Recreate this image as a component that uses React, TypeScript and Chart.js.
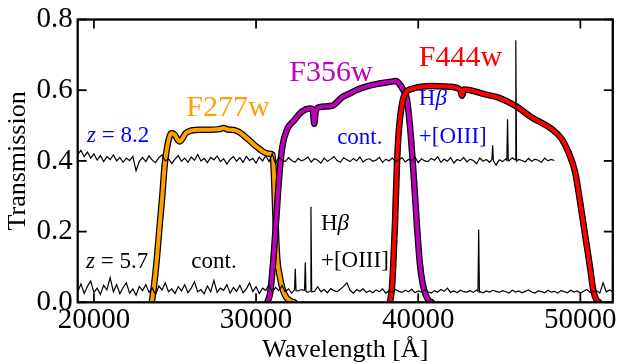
import React, { useEffect, useRef } from 'react';
import { Chart, registerables } from 'chart.js';

Chart.register(...registerables);

const SERIF = '"Liberation Serif"';
const ORANGE = '#FFA000';
const PURPLE = '#BF00BF';
const RED = '#FF0000';
const BLUE = '#0000FF';

const X_MIN = 19000;
const X_MAX = 52000;
const X_TICKS = [20000, 30000, 40000, 50000];
const Y_TICKS = [0.0, 0.2, 0.4, 0.6, 0.8];

// Filter transmission curves
const F277W_WAVE = [23570, 23690, 23875, 24060, 24215, 24367, 24520, 24674, 24797, 24981, 25166, 25289, 25412, 25657, 26026, 26518, 27133, 27747, 27993, 28239, 28669, 28977, 29284, 29592, 29899, 30206, 30514, 30821, 31024, 31128, 31233, 31313, 31436, 31620, 31848, 32112, 32358];
const F277W_T = [0, 0.04, 0.12, 0.22, 0.30, 0.39, 0.44, 0.47, 0.478, 0.474, 0.46, 0.455, 0.46, 0.478, 0.486, 0.488, 0.488, 0.490, 0.493, 0.489, 0.487, 0.481, 0.470, 0.458, 0.445, 0.434, 0.424, 0.420, 0.417, 0.333, 0.19, 0.12, 0.08, 0.04, 0.015, 0.004, 0];

const F356W_WAVE = [30698, 30882, 31067, 31251, 31436, 31620, 31927, 32358, 32849, 33341, 33495, 33587, 33679, 33894, 34693, 35308, 35739, 36169, 36784, 37398, 38013, 38443, 38627, 38873, 39058, 39304, 39488, 39611, 39734, 39918, 40102, 40287, 40471, 40655, 40840];
const F356W_T = [0, 0.03, 0.12, 0.24, 0.36, 0.44, 0.49, 0.515, 0.54, 0.548, 0.545, 0.505, 0.54, 0.552, 0.556, 0.58, 0.59, 0.60, 0.61, 0.617, 0.622, 0.625, 0.626, 0.616, 0.602, 0.575, 0.5, 0.43, 0.35, 0.22, 0.11, 0.05, 0.02, 0.005, 0];

const F444W_WAVE = [38258, 38381, 38474, 38566, 38689, 38812, 39015, 39224, 39630, 40853, 41886, 42580, 42703, 42830, 44142, 44959, 45985, 47006, 48235, 48850, 49262, 49674, 49981, 50288, 50596, 50798, 51001, 51168];
const F444W_T = [0, 0.04, 0.12, 0.22, 0.39, 0.49, 0.565, 0.593, 0.604, 0.612, 0.61, 0.602, 0.584, 0.602, 0.588, 0.579, 0.556, 0.523, 0.49, 0.462, 0.425, 0.369, 0.285, 0.192, 0.099, 0.034, 0.006, 0];

// Model spectra, continuum sampled every 200 Å from 19000 Å
const SPEC_START = 19000;
const SPEC_STEP = 200;

const Z82_FLUX = [
  0.418, 0.430, 0.412, 0.425, 0.408, 0.420, 0.402, 0.415, 0.398, 0.412,
  0.404, 0.417, 0.400, 0.410, 0.396, 0.408, 0.401, 0.413, 0.372, 0.399,
  0.410, 0.398, 0.414, 0.402, 0.395, 0.409, 0.417, 0.400, 0.406, 0.393,
  0.405, 0.415, 0.399, 0.408, 0.396, 0.411, 0.402, 0.418, 0.400, 0.407,
  0.395, 0.410, 0.403, 0.414, 0.398, 0.406, 0.391, 0.404, 0.412, 0.399,
  0.409, 0.396, 0.413, 0.401, 0.407, 0.394, 0.411, 0.400, 0.415, 0.398,
  0.420, 0.392, 0.410, 0.403, 0.398, 0.409, 0.401, 0.396, 0.407, 0.400,
  0.404, 0.411, 0.397, 0.406, 0.402, 0.394, 0.408, 0.399, 0.405, 0.412,
  0.401, 0.396, 0.409, 0.403, 0.398, 0.407, 0.400, 0.411, 0.397, 0.404,
  0.406, 0.399, 0.402, 0.410, 0.396, 0.405, 0.400, 0.408, 0.398, 0.403,
  0.409, 0.397, 0.404, 0.401, 0.411, 0.395, 0.406, 0.400, 0.398, 0.407,
  0.402, 0.412, 0.396, 0.405, 0.399, 0.409, 0.394, 0.404, 0.400, 0.410,
  0.397, 0.405, 0.401, 0.392, 0.408, 0.399, 0.404, 0.396, 0.403, 0.388,
  0.403, 0.398, 0.406, 0.400, 0.409, 0.396, 0.404, 0.401, 0.397, 0.407,
  0.399, 0.405, 0.402, 0.396, 0.408, 0.400, 0.404, 0.401,
];

const Z57_FLUX = [
  0.030, 0.052, 0.025, 0.045, 0.060, 0.028, 0.040, 0.022, 0.048, 0.035,
  0.070, 0.030, 0.050, 0.024, 0.042, 0.055, 0.026, 0.038, 0.020, 0.045,
  0.033, 0.050, 0.028, 0.040, 0.022, 0.046, 0.035, 0.055, 0.030, 0.038,
  0.025, 0.044, 0.032, 0.050, 0.027, 0.040, 0.058, 0.030, 0.036, 0.024,
  0.046, 0.030, 0.062, 0.028, 0.040, 0.034, 0.050, 0.026, 0.042, 0.031,
  0.048, 0.027, 0.038, 0.055, 0.030, 0.044, 0.025, 0.040, 0.034, 0.050,
  0.029, 0.042, 0.033, 0.047, 0.030, 0.038, 0.026, 0.040, 0.032, 0.036,
  0.034, 0.028, 0.038, 0.031, 0.044, 0.030, 0.036, 0.027, 0.039, 0.033,
  0.030, 0.037, 0.045, 0.055, 0.034, 0.026, 0.036, 0.031, 0.038, 0.028,
  0.033, 0.027, 0.035, 0.030, 0.038, 0.026, 0.032, 0.029, 0.036, 0.031,
  0.028, 0.034, 0.030, 0.037, 0.027, 0.032, 0.029, 0.035, 0.030, 0.026,
  0.033, 0.029, 0.036, 0.031, 0.040, 0.028, 0.032, 0.027, 0.034, 0.030,
  0.029, 0.033, 0.028, 0.035, 0.030, 0.027, 0.032, 0.029, 0.034, 0.031,
  0.028, 0.033, 0.030, 0.026, 0.034, 0.029, 0.032, 0.027, 0.031, 0.035,
  0.029, 0.026, 0.032, 0.030, 0.027, 0.034, 0.029, 0.031, 0.026, 0.033,
  0.030, 0.027, 0.034, 0.029, 0.032, 0.026, 0.031, 0.036, 0.028, 0.030,
  0.033, 0.026, 0.055, 0.029, 0.035, 0.030,
];

// Emission lines: [wavelength, flux] triplets (Hβ, [OIII]4959, [OIII]5007, Hα)
const Z82_LINES = [
  [[44545, 0.404], [44590, 0.444], [44635, 0.400]],
  [[45465, 0.402], [45510, 0.518], [45555, 0.401]],
  [[45975, 0.403], [46020, 0.741], [46065, 0.399]],
];
const Z57_LINES = [
  [[32375, 0.036], [32420, 0.095], [32465, 0.033]],
  [[32990, 0.034], [33035, 0.113], [33080, 0.031]],
  [[33340, 0.032], [33385, 0.270], [33430, 0.030]],
  [[43685, 0.031], [43730, 0.206], [43775, 0.029]],
];

// Text annotations: wavelength of left edge, transmission at baseline
const LABELS: any[] = [
  { parts: [['F277w', false]], x: 25700, y: 0.528, size: 30, color: ORANGE },
  { parts: [['F356w', false]], x: 32050, y: 0.6257, size: 30, color: PURPLE },
  { parts: [['F444w', false]], x: 40041, y: 0.6675, size: 30, color: RED },
  { parts: [['z', true], [' = 8.2', false]], x: 19572, y: 0.4527, size: 23, color: BLUE },
  { parts: [['cont.', false]], x: 35000, y: 0.448, size: 23, color: BLUE },
  { parts: [['H', false], ['β', true]], x: 40041, y: 0.5587, size: 23, color: BLUE },
  { parts: [['+[OIII]', false]], x: 40041, y: 0.45, size: 23, color: BLUE },
  { parts: [['z', true], [' = 5.7', false]], x: 19510, y: 0.0957, size: 23, color: '#000' },
  { parts: [['cont.', false]], x: 26008, y: 0.0957, size: 23, color: '#000' },
  { parts: [['H', false], ['β', true]], x: 34000, y: 0.2045, size: 23, color: '#000' },
  { parts: [['+[OIII]', false]], x: 34000, y: 0.0985, size: 23, color: '#000' },
];

function curve(w: number[], t: number[]) {
  return w.map((x, i) => ({ x, y: t[i] }));
}

function specPoints(flux: number[], lines: number[][][]) {
  const pts: { x: number; y: number }[] = [];
  flux.forEach((f, i) => {
    const w = SPEC_START + i * SPEC_STEP;
    if (lines.some((t) => w >= t[0][0] - 20 && w <= t[2][0] + 20)) return;
    pts.push({ x: w, y: f });
  });
  lines.forEach((t) => t.forEach((p) => pts.push({ x: p[0], y: p[1] })));
  pts.sort((a, b) => a.x - b.x);
  return pts;
}

function filterSets(w: number[], t: number[], color: string) {
  const data = curve(w, t);
  const common = {
    data,
    showLine: true,
    pointRadius: 0,
    cubicInterpolationMode: 'monotone' as const,
    borderCapStyle: 'round' as const,
    borderJoinStyle: 'round' as const,
  };
  return [
    { ...common, borderColor: color, borderWidth: 4 },
    { ...common, borderColor: '#000', borderWidth: 6.5 },
  ];
}

const overlay = {
  id: 'overlay',
  afterDatasetsDraw(chart: any) {
    const { ctx, chartArea: a, scales } = chart;
    const xs = scales.x;
    const ys = scales.y;
    ctx.save();
    ctx.textBaseline = 'alphabetic';
    ctx.textAlign = 'left';
    for (const lab of LABELS) {
      let px = xs.getPixelForValue(lab.x);
      const py = ys.getPixelForValue(lab.y);
      ctx.fillStyle = lab.color;
      for (const [txt, it] of lab.parts) {
        ctx.font = `${it ? 'italic ' : ''}${lab.size}px ${SERIF}`;
        ctx.fillText(txt, px, py);
        px += ctx.measureText(txt).width;
      }
    }
    ctx.strokeStyle = '#000';
    ctx.lineWidth = 2.3;
    ctx.strokeRect(a.left, a.top, a.right - a.left, a.bottom - a.top);
    ctx.lineWidth = 1.8;
    const seg = (x1: number, y1: number, x2: number, y2: number) => {
      ctx.beginPath();
      ctx.moveTo(x1, y1);
      ctx.lineTo(x2, y2);
      ctx.stroke();
    };
    for (const v of X_TICKS) {
      const p = xs.getPixelForValue(v);
      seg(p, a.bottom, p, a.bottom - 9);
      seg(p, a.top, p, a.top + 9);
    }
    for (const v of Y_TICKS) {
      const p = ys.getPixelForValue(v);
      seg(a.left, p, a.left + 9, p);
      seg(a.right, p, a.right - 9, p);
    }
    ctx.restore();
  },
};

export default function App() {
  const ref = useRef<HTMLCanvasElement>(null);
  useEffect(() => {
    if (!ref.current) return;
    const [redC, redO] = filterSets(F444W_WAVE, F444W_T, RED);
    const [purC, purO] = filterSets(F356W_WAVE, F356W_T, PURPLE);
    const [oraC, oraO] = filterSets(F277W_WAVE, F277W_T, ORANGE);
    const specCommon = { showLine: true, pointRadius: 0, borderColor: '#000', borderWidth: 1.2, tension: 0 };
    const chart = new Chart(ref.current, {
      type: 'scatter',
      data: {
        datasets: [
          { ...specCommon, data: specPoints(Z82_FLUX, Z82_LINES) },
          { ...specCommon, data: specPoints(Z57_FLUX, Z57_LINES) },
          redC, redO, purC, purO, oraC, oraO,
        ] as any,
      },
      options: {
        animation: false,
        responsive: false,
        devicePixelRatio: 1,
        layout: { padding: { left: 0, top: 15.5, right: 6.5, bottom: 0 } },
        plugins: { legend: { display: false }, tooltip: { enabled: false } },
        scales: {
          x: {
            type: 'linear',
            min: X_MIN,
            max: X_MAX,
            afterBuildTicks: (s: any) => {
              s.ticks = X_TICKS.map((v) => ({ value: v }));
            },
            afterFit: (s: any) => {
              s.height = 61.7;
            },
            grid: { display: false, drawTicks: false },
            border: { display: false },
            ticks: {
              color: '#000',
              padding: 4,
              maxRotation: 0,
              autoSkip: false,
              font: { family: SERIF, size: 29, lineHeight: 1 },
              callback: (v: any) => String(v),
            },
            title: {
              display: true,
              text: 'Wavelength [Å]',
              color: '#000',
              font: { family: SERIF, size: 26, lineHeight: 1.1 },
              padding: { top: 0, bottom: 0 },
            },
          },
          y: {
            type: 'linear',
            min: 0,
            max: 0.8,
            afterBuildTicks: (s: any) => {
              s.ticks = Y_TICKS.map((v) => ({ value: v }));
            },
            afterFit: (s: any) => {
              s.width = 77.7;
            },
            grid: { display: false, drawTicks: false },
            border: { display: false },
            ticks: {
              color: '#000',
              padding: 5,
              font: { family: SERIF, size: 29, lineHeight: 1 },
              callback: (v: any) => Number(v).toFixed(1),
            },
            title: {
              display: true,
              text: 'Transmission',
              color: '#000',
              font: { family: SERIF, size: 26, lineHeight: 1.2 },
              padding: { top: 3, bottom: 0 },
            },
          },
        },
      },
      plugins: [overlay],
    });
    return () => chart.destroy();
  }, []);
  return (
    <div style={{ position: 'fixed', left: 0, top: 0, width: 621, height: 364, background: '#fff' }}>
      <canvas ref={ref} width={621} height={364} style={{ width: 621, height: 364, display: 'block' }} />
    </div>
  );
}
